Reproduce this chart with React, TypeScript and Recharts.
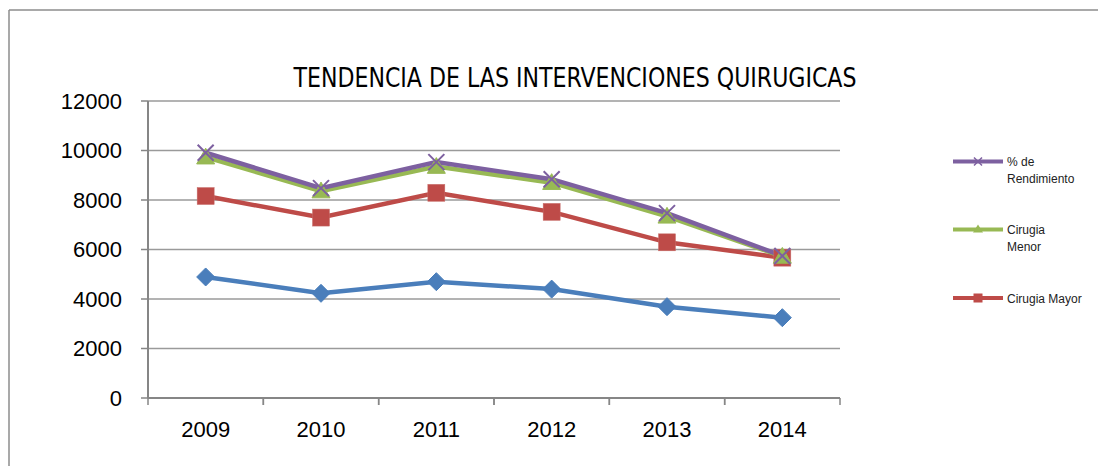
import React from "react";
import {
  LineChart,
  Line,
  XAxis,
  YAxis,
  CartesianGrid,
  Customized,
} from "recharts";

const years = ["2009", "2010", "2011", "2012", "2013", "2014"];
const serieTotal = [4890, 4230, 4700, 4400, 3690, 3245];
const cirugiaMayor = [8160, 7290, 8290, 7520, 6290, 5670];
const cirugiaMenor = [9730, 8360, 9350, 8700, 7340, 5720];
const rendimiento = [9910, 8480, 9530, 8840, 7470, 5740];
const yTicks = [0, 2000, 4000, 6000, 8000, 10000, 12000];

const data = years.map((year, i) => ({
  year,
  total: serieTotal[i],
  mayor: cirugiaMayor[i],
  menor: cirugiaMenor[i],
  rend: rendimiento[i],
}));

const W = 1098;
const H = 466;
const PLOT_LEFT = 148;
const PLOT_RIGHT = 840;
const PLOT_TOP = 101;
const PLOT_BOTTOM = 398;
const HALF_BAND = (PLOT_RIGHT - PLOT_LEFT) / years.length / 2;

const AXIS = "#868686";
const BLUE = "#4a7ebb";
const RED = "#be4b48";
const GREEN = "#98b954";
const PURPLE = "#7d60a0";
const TICK_FONT = "'Liberation Sans', Arial, sans-serif";
const TITLE_FONT = "'DejaVu Sans Condensed', 'Liberation Sans', sans-serif";
const LEGEND_FONT = "'Liberation Sans', Arial, sans-serif";

const Diamond = (p: any) => {
  const { cx, cy } = p;
  if (cx == null || cy == null) return null;
  const r = 9;
  return (
    <path
      d={`M${cx},${cy - r}L${cx + r},${cy}L${cx},${cy + r}L${cx - r},${cy}Z`}
      fill={BLUE}
      stroke={BLUE}
    />
  );
};

const Square = (p: any) => {
  const { cx, cy } = p;
  if (cx == null || cy == null) return null;
  const s = 8.5;
  return <rect x={cx - s} y={cy - s} width={s * 2} height={s * 2} fill={RED} stroke="#c8706c" strokeWidth={0.5} />;
};

const Triangle = (p: any) => {
  const { cx, cy } = p;
  if (cx == null || cy == null) return null;
  const s = 9;
  return (
    <path
      d={`M${cx},${cy - s}L${cx + s},${cy + s * 0.75}L${cx - s},${cy + s * 0.75}Z`}
      fill={GREEN}
      stroke={GREEN}
    />
  );
};

const Cross = (p: any) => {
  const { cx, cy } = p;
  if (cx == null || cy == null) return null;
  const s = 8;
  return (
    <path
      d={`M${cx - s},${cy - s}L${cx + s},${cy + s}M${cx - s},${cy + s}L${cx + s},${cy - s}`}
      stroke={PURPLE}
      strokeWidth={2}
      fill="none"
    />
  );
};

const YearTick = (p: any) => {
  const { x, y, payload } = p;
  return (
    <g>
      <line x1={x - HALF_BAND} y1={y} x2={x - HALF_BAND} y2={y + 7} stroke={AXIS} strokeWidth={1.5} />
      <line x1={x + HALF_BAND} y1={y} x2={x + HALF_BAND} y2={y + 7} stroke={AXIS} strokeWidth={1.5} />
      <text x={x} y={y + 39} textAnchor="middle" fontSize={22} fontFamily={TICK_FONT} fill="#000">
        {payload.value}
      </text>
    </g>
  );
};

const legendItems = [
  { label: ["% de", "Rendimiento"], color: PURPLE, marker: "x" },
  { label: ["Cirugia", "Menor"], color: GREEN, marker: "tri" },
  { label: ["Cirugia Mayor"], color: RED, marker: "sq" },
];

const Decorations = () => (
  <g>
    <line x1={9} y1={10} x2={W} y2={10} stroke="#8c8c8c" strokeWidth={1.5} />
    <line x1={9} y1={10} x2={9} y2={H} stroke="#8c8c8c" strokeWidth={1.5} />
    <text
      x={575}
      y={87}
      textAnchor="middle"
      fontSize={26}
      fontFamily={TITLE_FONT}
      fill="#000"
      textLength={563}
      lengthAdjust="spacingAndGlyphs"
    >
      TENDENCIA DE LAS INTERVENCIONES QUIRUGICAS
    </text>
    {legendItems.map((it, i) => {
      const y = [161.5, 229.5, 298][i];
      const mx = 978;
      return (
        <g key={i}>
          <line x1={953} y1={y} x2={1003} y2={y} stroke={it.color} strokeWidth={4} />
          {it.marker === "x" && (
            <path d={`M${mx - 4},${y - 4}L${mx + 4},${y + 4}M${mx - 4},${y + 4}L${mx + 4},${y - 4}`} stroke={it.color} strokeWidth={1.5} />
          )}
          {it.marker === "tri" && <path d={`M${mx},${y - 5}L${mx + 5},${y + 3}L${mx - 5},${y + 3}Z`} fill={it.color} />}
          {it.marker === "sq" && <rect x={mx - 4.5} y={y - 4.5} width={9} height={9} fill={it.color} />}
          {it.label.map((t, j) => (
            <text key={j} x={1007} y={y + 4.5 + j * 16.5} fontSize={12} fontFamily={LEGEND_FONT} fill="#222">
              {t}
            </text>
          ))}
        </g>
      );
    })}
  </g>
);

export default function App() {
  return (
    <div style={{ position: "absolute", left: 0, top: 0, width: W, height: H, background: "#fff" }}>
      <LineChart
        width={W}
        height={H}
        data={data}
        margin={{ top: PLOT_TOP, right: W - PLOT_RIGHT, bottom: 0, left: 0 }}
      >
        <CartesianGrid vertical={false} stroke="#9a9a9a" strokeWidth={1.5} />
        <XAxis
          dataKey="year"
          tickLine={false}
          tickSize={0}
          tickMargin={0}
          axisLine={{ stroke: AXIS, strokeWidth: 2 }}
          tick={<YearTick />}
          interval={0}
          padding={{ left: HALF_BAND, right: HALF_BAND }}
          height={H - PLOT_BOTTOM}
        />
        <YAxis
          width={PLOT_LEFT}
          domain={[0, 12000]}
          ticks={yTicks}
          interval={0}
          tickSize={7}
          tickMargin={19}
          tickLine={{ stroke: AXIS, strokeWidth: 1.5 }}
          axisLine={{ stroke: AXIS, strokeWidth: 2 }}
          tick={{ fontSize: 22, fontFamily: TICK_FONT, fill: "#000" }}
        />
        <Line dataKey="total" stroke={BLUE} strokeWidth={4.5} dot={<Diamond />} activeDot={false} isAnimationActive={false} />
        <Line dataKey="mayor" stroke={RED} strokeWidth={4.5} dot={<Square />} activeDot={false} isAnimationActive={false} />
        <Line dataKey="menor" stroke={GREEN} strokeWidth={4.5} dot={<Triangle />} activeDot={false} isAnimationActive={false} />
        <Line dataKey="rend" stroke={PURPLE} strokeWidth={4.5} dot={<Cross />} activeDot={false} isAnimationActive={false} />
        <Customized component={Decorations} />
      </LineChart>
    </div>
  );
}
